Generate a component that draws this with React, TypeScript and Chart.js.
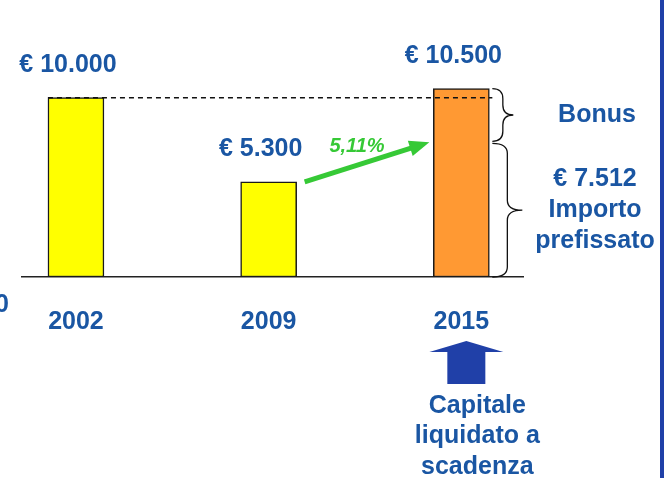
import React, { useEffect, useRef } from "react";
import { Chart, registerables } from "chart.js";

Chart.register(...registerables);

const categories = ["2002", "2009", "2015"];
const values = [10000, 5300, 10500];
const valueLabels = ["€ 10.000", "€ 5.300", "€ 10.500"];
const fixedAmount = 7512;
const fixedLabel = ["€ 7.512", "Importo", "prefissato"];
const bonusLabel = "Bonus";
const growthLabel = "5,11%";
const maturityLabel = ["Capitale", "liquidato a", "scadenza"];
const clippedLabel = "0";

const FONT = '"Liberation Sans", Arial, Helvetica, sans-serif';
const BLUE = "#1a56a3";
const GREEN = "#36c936";
const ARROW_BLUE = "#2040a8";
const TEXT_SIZE = 25;

function drawBrace(ctx: CanvasRenderingContext2D, x: number, y1: number, y2: number, w: number) {
  const ym = (y1 + y2) / 2;
  const r = Math.min(10, (y2 - y1) / 4);
  const xm = x + w * 0.5;
  ctx.beginPath();
  ctx.moveTo(x, y1);
  ctx.quadraticCurveTo(xm, y1, xm, y1 + r);
  ctx.lineTo(xm, ym - r);
  ctx.quadraticCurveTo(xm, ym, x + w, ym);
  ctx.quadraticCurveTo(xm, ym, xm, ym + r);
  ctx.lineTo(xm, y2 - r);
  ctx.quadraticCurveTo(xm, y2, x, y2);
  ctx.stroke();
}

const annotations = {
  id: "annotations",
  afterDatasetsDraw(chart: any) {
    const ctx: CanvasRenderingContext2D = chart.ctx;
    const bars = chart.getDatasetMeta(0).data as any[];
    const ys = chart.scales.y;
    const [b0, b1, b2] = bars;
    const half = (b: any) => b.width / 2;
    const yBase = ys.getPixelForValue(0);
    const ySplit = ys.getPixelForValue(fixedAmount);
    ctx.save();

    // dashed reference line at the initial value
    const yRef = ys.getPixelForValue(values[0]);
    ctx.setLineDash([5, 4]);
    ctx.lineWidth = 1.5;
    ctx.strokeStyle = "#111";
    ctx.beginPath();
    ctx.moveTo(b0.x - half(b0), yRef);
    ctx.lineTo(b2.x + half(b2) + 3, yRef);
    ctx.stroke();
    ctx.setLineDash([]);

    // value labels
    ctx.font = `bold ${TEXT_SIZE}px ${FONT}`;
    ctx.fillStyle = BLUE;
    ctx.textAlign = "center";
    ctx.textBaseline = "middle";
    bars.forEach((b, i) => {
      ctx.fillText(valueLabels[i], b.x - 8, b.y - 33);
    });

    // green growth arrow
    const sx = b1.x + half(b1) + 8;
    const sy = b1.y;
    const ex = b2.x - half(b2) - 4;
    const ey = ySplit;
    const ang = Math.atan2(ey - sy, ex - sx);
    const headLen = 20;
    const headW = 8;
    ctx.strokeStyle = GREEN;
    ctx.fillStyle = GREEN;
    ctx.lineWidth = 5;
    ctx.beginPath();
    ctx.moveTo(sx, sy);
    ctx.lineTo(ex - Math.cos(ang) * headLen * 0.8, ey - Math.sin(ang) * headLen * 0.8);
    ctx.stroke();
    const bxh = ex - Math.cos(ang) * headLen;
    const byh = ey - Math.sin(ang) * headLen;
    ctx.beginPath();
    ctx.moveTo(ex, ey);
    ctx.lineTo(bxh + Math.sin(ang) * headW, byh - Math.cos(ang) * headW);
    ctx.lineTo(bxh - Math.sin(ang) * headW, byh + Math.cos(ang) * headW);
    ctx.closePath();
    ctx.fill();
    ctx.font = `italic bold 20px ${FONT}`;
    ctx.fillText(growthLabel, (sx + ex) / 2 - 10, (sy + ey) / 2 - 16);

    // braces
    const bx = b2.x + half(b2) + 3;
    ctx.strokeStyle = "#111";
    ctx.lineWidth = 1.3;
    drawBrace(ctx, bx, b2.y, ySplit - 1, 21);
    drawBrace(ctx, bx, ySplit + 1, yBase, 30);

    // right-hand texts
    const cx = chart.chartArea.right + 72;
    ctx.fillStyle = BLUE;
    ctx.font = `bold ${TEXT_SIZE}px ${FONT}`;
    ctx.fillText(bonusLabel, cx + 2, (b2.y + ySplit) / 2);
    const fm = (ySplit + yBase) / 2;
    fixedLabel.forEach((t, i) => ctx.fillText(t, cx, fm + (i - 1) * 31));

    // blue up arrow under the maturity year
    const ax = b2.x + 5;
    const at = yBase + 64;
    ctx.fillStyle = ARROW_BLUE;
    ctx.beginPath();
    ctx.moveTo(ax, at);
    ctx.lineTo(ax + 37, at + 11);
    ctx.lineTo(ax + 19, at + 11);
    ctx.lineTo(ax + 19, at + 43);
    ctx.lineTo(ax - 19, at + 43);
    ctx.lineTo(ax - 19, at + 11);
    ctx.lineTo(ax - 37, at + 11);
    ctx.closePath();
    ctx.fill();
    ctx.fillStyle = BLUE;
    maturityLabel.forEach((t, i) => ctx.fillText(t, b2.x + 16, yBase + 129 + i * 30.5));

    // clipped text at left edge
    ctx.textAlign = "right";
    ctx.fillText(clippedLabel, 9, yBase + 28);

    // right vertical rule
    ctx.fillStyle = ARROW_BLUE;
    ctx.fillRect(chart.width - 7, 0, 4, chart.height);
    ctx.restore();
  },
};

export default function App() {
  const ref = useRef<HTMLCanvasElement>(null);
  useEffect(() => {
    const chart = new Chart(ref.current as HTMLCanvasElement, {
      type: "bar",
      data: {
        datasets: [
          {
            data: values.map((v, i) => ({ x: i, y: v })),
            backgroundColor: ["#ffff00", "#ffff00", "#ff9933"],
            borderColor: "#1a1a1a",
            borderWidth: 1.5,
            borderSkipped: false,
            barThickness: 56,
          } as any,
        ],
      },
      options: {
        animation: false,
        responsive: false,
        devicePixelRatio: 1,
        layout: { padding: { left: 22, right: 144, top: 8, bottom: 111 } },
        plugins: { legend: { display: false }, tooltip: { enabled: false } },
        scales: {
          x: {
            type: "linear",
            min: -0.28,
            max: 2.32,
            offset: false,
            grid: { display: false, drawTicks: false },
            border: { display: true, color: "#222", width: 1.5 },
            afterBuildTicks: (axis: any) => {
              axis.ticks = categories.map((_, i) => ({ value: i }));
            },
            ticks: {
              padding: 30,
              maxRotation: 0,
              autoSkip: false,
              color: BLUE,
              font: { family: FONT, size: TEXT_SIZE, weight: "bold" },
              callback: (v: any) => categories[Math.round(Number(v))] ?? "",
            },
          },
          y: { display: false, min: 0, max: 15000 },
        },
      },
      plugins: [annotations],
    });
    return () => chart.destroy();
  }, []);
  return (
    <div style={{ position: "fixed", left: 0, top: 0, width: 667, height: 478, background: "#fff" }}>
      <canvas ref={ref} width={667} height={478} style={{ display: "block" }} />
    </div>
  );
}
